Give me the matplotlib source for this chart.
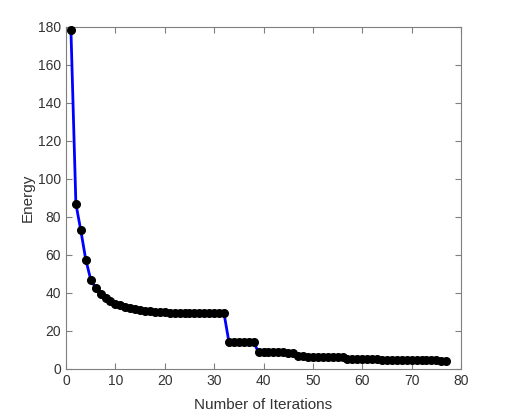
import matplotlib
matplotlib.use("Agg")
import matplotlib.pyplot as plt

iterations = list(range(1, 78))
energy = [
    178.5, 87.0, 72.9, 57.6, 47.1, 42.7, 39.4, 37.2, 35.6, 34.4,
    33.5, 32.8, 32.2, 31.6, 31.1, 30.7, 30.4, 30.1, 29.9, 29.8,
    29.7, 29.7, 29.6, 29.6, 29.5, 29.5, 29.5, 29.4, 29.4, 29.4,
    29.3, 29.3,
    14.2, 14.2, 14.2, 14.2, 14.2, 14.1,
    8.8, 8.8, 8.7, 8.7, 8.7, 8.7, 8.6, 8.6,
    6.6, 6.6, 6.5, 6.5, 6.5, 6.5, 6.4, 6.4, 6.4, 6.3,
    5.5, 5.5, 5.4, 5.4, 5.4, 5.3, 5.3,
    5.0, 5.0, 4.9, 4.9, 4.8, 4.8, 4.7, 4.7, 4.6, 4.6, 4.5, 4.5, 4.4, 4.4,
]
xticks = [0, 10, 20, 30, 40, 50, 60, 70, 80]
yticks = [0, 20, 40, 60, 80, 100, 120, 140, 160, 180]

plt.rcParams['font.family'] = ['Liberation Sans', 'DejaVu Sans']

fig = plt.figure(figsize=(5.10, 4.16), dpi=100)
ax = fig.add_axes([66/510, 47/416, (461-66)/510, (369-27)/416])
ax.plot(iterations, energy, color='#0000ff', linewidth=2.0, marker='o',
        markersize=5.5, markerfacecolor='black', markeredgecolor='black', zorder=3,
        clip_on=False)
ax.set_xlim(0, 80)
ax.set_ylim(0, 180)
ax.set_xticks(xticks)
ax.set_yticks(yticks)
for s in ax.spines.values():
    s.set_color('#7f7f7f')
    s.set_linewidth(0.8)
ax.tick_params(direction='in', top=True, right=True, length=4, width=0.8,
               colors='#7f7f7f', labelcolor='#333333', labelsize=10)
ax.set_xlabel('Number of Iterations', fontsize=11, color='#333333', labelpad=7)
ax.set_ylabel('Energy', fontsize=11, color='#333333')
ax.yaxis.set_label_coords(-0.078, 0.5)
fig.savefig('out.png', dpi=100)
